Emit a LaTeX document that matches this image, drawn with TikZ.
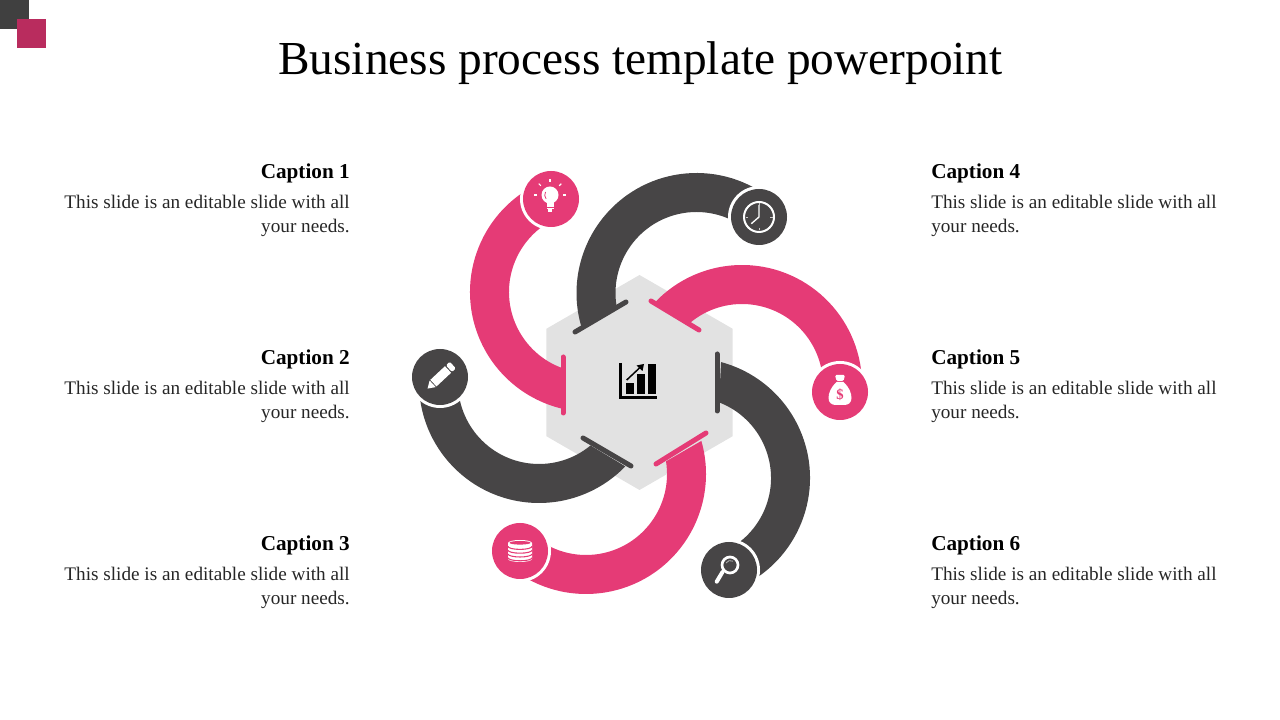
\documentclass[tikz,border=0pt]{standalone}
\usepackage{fontspec}
\setmainfont{Liberation Serif}
\usetikzlibrary{calc,shapes.geometric}
\definecolor{bandpink}{HTML}{E53B76}
\definecolor{banddark}{HTML}{474546}
\definecolor{hubgray}{HTML}{E2E2E2}
\definecolor{cornerdark}{HTML}{404040}
\definecolor{cornerred}{HTML}{B92C5E}
\tikzset{
  icondisc/.style={circle,minimum size=42pt,inner sep=0pt,outer sep=0pt},
  hubhex/.style={regular polygon,regular polygon sides=6,regular polygon rotate=30,fill=hubgray,minimum size=161.25pt,inner sep=0pt,outer sep=0pt},
  barend/.style={line width=3.75pt,line cap=round},
  headtext/.style={font=\fontsize{15.9}{18}\selectfont\bfseries},
  bodytext/.style={font=\fontsize{14.4}{18}\selectfont,text=black!85},
}
% band: centre, start angle, outer end angle, inner end angle, colour
\newcommand{\bandarc}[5]{
  \fill[#5] ($(#1)+(#2:90pt)$) arc (#2:#3:90pt) -- ($(#1)+(#4:60.75pt)$) arc (#4:#2:60.75pt) -- cycle;
}
% disc with a white ring: name, place, colour
\newcommand{\iconat}[3]{
  \fill[white] (#2) circle (31);
  \node[icondisc,fill=#3] (#1) at (#2) {};
}
\begin{document}
\begin{tikzpicture}[x=0.75pt,y=0.75pt]
\useasboundingbox (0,0) rectangle (1280,720);
% corner squares
\fill[cornerdark] (0,720) rectangle (29,691);
\fill[cornerred] (17,701) rectangle (46,672);
\node[font=\fontsize{35.5}{40}\selectfont] (title) at (640.5,657) {Business process template powerpoint};
% hub
\node[hubhex] (hub) at (639.5,337.5) {};
% bands
\bandarc{590,428}{113}{257}{250.5}{bandpink}
\bandarc{539,337}{176.5}{316}{309.5}{banddark}
\bandarc{586,246}{229}{376}{369}{bandpink}
\bandarc{696.5,427}{50}{196}{189.5}{banddark}
\bandarc{742,335}{-4}{137}{130.5}{bandpink}
\bandarc{690,242}{-67}{75}{69}{banddark}
% bars on the hub sides
\draw[barend,bandpink] (563,363) -- (563,307);
\draw[barend,banddark] (583,282) -- (631,254);
\draw[barend,bandpink] (656,256) -- (706,287);
\draw[barend,banddark] (575,388) -- (626,418);
\draw[barend,bandpink] (651,419) -- (699,390);
\draw[barend,banddark] (717,366) -- (717,309);
% icon discs
\iconat{bulb}{551,521}{bandpink}
\iconat{pencil}{440,343}{banddark}
\iconat{stack}{520,169}{bandpink}
\iconat{clock}{759,503}{banddark}
\iconat{bag}{840,328}{bandpink}
\iconat{lens}{729,150}{banddark}
% bulb
\begin{scope}[shift={(bulb)}]
\fill[white] (-1,4) circle (8.5);
\fill[white] (-4,-3) rectangle (2.5,-10.5);
\fill[white] (-2.8,-10.5) rectangle (1.3,-13.5);
\draw[bandpink,line width=0.5pt] (-4,-8.5) -- (2.5,-8.5);
\draw[bandpink,line width=0.6pt] (-5.5,7) arc (150:220:6);
\foreach \a in {0,45,90,135,180} \draw[white,line width=0.8pt] ($(-1,4)+(\a:13)$) -- ($(-1,4)+(\a:16)$);
\end{scope}
% pencil
\begin{scope}[shift={(pencil)},rotate=43]
\fill[white] (-9,-4.5) rectangle (11,4.5);
\fill[white] (-17,0) -- (-10,-4.5) -- (-10,4.5) -- cycle;
\fill[white,rounded corners=1pt] (12.2,-4.5) rectangle (17.5,4.5);
\end{scope}
% stack
\begin{scope}[shift={(stack)}]
\fill[white] (-12,8) -- (-12,-8) arc (180:360:12 and 3) -- (12,8) arc (0:180:12 and 3) -- cycle;
\fill[bandpink] (0,8.2) ellipse (10.5 and 1.8);
\foreach \h in {4.6,0.8,-3,-6.8} \draw[bandpink,line width=0.8pt] (-12,\h) arc (180:360:12 and 3);
\end{scope}
% clock
\begin{scope}[shift={(clock)}]
\draw[white,line width=1.5pt] (0,0) circle (15);
\draw[white,line width=1pt] (0,12) -- (0,0) -- (-7.7,-6.7);
\foreach \a in {0,90,180,270} \draw[white!70!banddark,line width=0.5pt] (\a:11) -- (\a:13.5);
\end{scope}
% money bag
\begin{scope}[shift={(bag)}]
\fill[white] (-3.5,10) .. controls (-9,5) and (-11.5,-1) .. (-11.5,-6) .. controls (-11.5,-11) and (-8,-13) .. (-4,-13) -- (4,-13) .. controls (8,-13) and (11.5,-11) .. (11.5,-6) .. controls (11.5,-1) and (9,5) .. (3.5,10) -- cycle;
\fill[white,rounded corners=1pt] (-5,17) -- (5,17) -- (3.5,11) -- (-3.5,11) -- cycle;
\node[text=bandpink,font=\fontsize{11}{11}\selectfont\bfseries,inner sep=0pt] (dollar) at (0,-3) {\$};
\end{scope}
% magnifier
\begin{scope}[shift={(lens)}]
\draw[white,line width=2pt] (1,5) circle (8);
\draw[white!60!banddark,line width=0.6pt] (-3,7) arc (150:60:5);
\draw[white,line width=3pt,line cap=round] (-6.5,-2) -- (-12.3,-11.7);
\end{scope}
% chart on the hub
\draw[black,line width=1.9pt] (620.5,357) -- (620.5,322.5) -- (656.5,322.5);
\fill[black] (626,325.7) rectangle (634,336.7);
\fill[black] (637,325.7) rectangle (645,346);
\fill[black] (648,325.7) rectangle (656,356);
\draw[black,line width=1.1pt] (626.7,340) -- (640,352.5);
\fill[black] (644,356) -- (636.5,354.5) -- (642.5,349) -- cycle;
% captions
\foreach \n/\ypos in {1/549,2/363,3/177} {
  \node[headtext,anchor=east,inner sep=0pt] (cap\n) at (350,\ypos-2) {Caption \n};
  \node[bodytext,anchor=north east,align=right,inner sep=0pt] (txt\n) at (350,\ypos-24) {This slide is an editable slide with all\\your needs.};
}
\foreach \n/\ypos in {4/549,5/363,6/177} {
  \node[headtext,anchor=west,inner sep=0pt] (cap\n) at (931,\ypos-2) {Caption \n};
  \node[bodytext,anchor=north west,align=left,inner sep=0pt] (txt\n) at (931,\ypos-24) {This slide is an editable slide with all\\your needs.};
}
\end{tikzpicture}
\end{document}
